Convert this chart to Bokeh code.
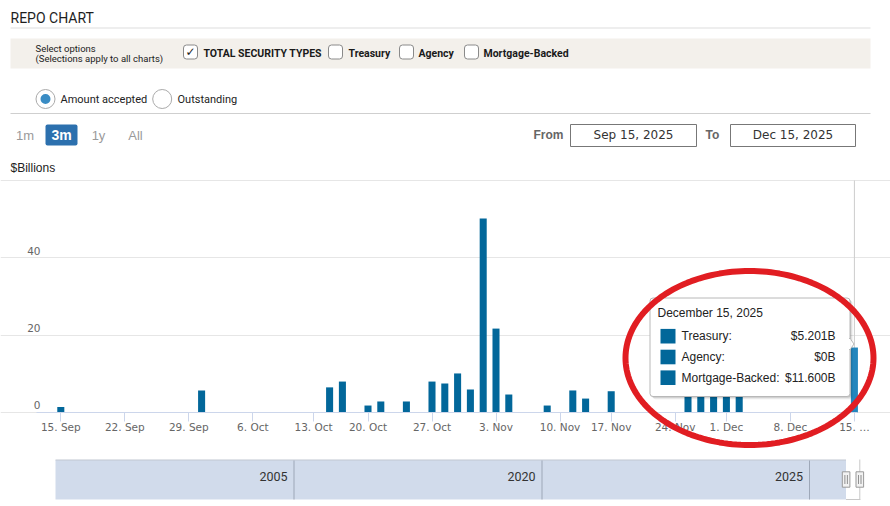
import numpy as np
import pandas as pd
from bokeh.plotting import figure
from bokeh.models import (Range1d, FixedTicker, BoxAnnotation, Label, PolyAnnotation,
                          ColumnDataSource)
from bokeh.embed import file_html
from bokeh.resources import INLINE

# ---------------- data ----------------
start_date = "2025-09-15"
end_date = "2025-12-15"
holidays = ["2025-10-13", "2025-11-11", "2025-11-27"]

bar_dates = ["2025-09-15", "2025-09-30", "2025-10-15", "2025-10-16", "2025-10-20",
             "2025-10-21", "2025-10-23", "2025-10-27", "2025-10-28", "2025-10-29",
             "2025-10-30", "2025-10-31", "2025-11-03", "2025-11-04", "2025-11-07",
             "2025-11-12", "2025-11-13", "2025-11-17", "2025-11-25", "2025-11-26",
             "2025-11-28", "2025-12-01", "2025-12-02", "2025-12-15"]
bar_values = [1.4, 5.7, 6.5, 8.0, 1.8,
              2.85, 2.85, 8.0, 7.5, 10.1,
              5.95, 50.2, 21.7, 4.65, 1.8,
              5.7, 3.6, 5.5, 6.0, 8.5,
              24.4, 26.0, 5.0, 16.801]

tick_dates = ["2025-09-15", "2025-09-22", "2025-09-29", "2025-10-06", "2025-10-13",
              "2025-10-20", "2025-10-27", "2025-11-03", "2025-11-10", "2025-11-17",
              "2025-11-24", "2025-12-01", "2025-12-08", "2025-12-15"]
tick_labels = ["15. Sep", "22. Sep", "29. Sep", "6. Oct", "13. Oct", "20. Oct", "27. Oct",
               "3. Nov", "10. Nov", "17. Nov", "24. Nov", "1. Dec", "8. Dec", "15. \u2026"]

y_ticks = [0, 20, 40, 60]
y_tick_labels = ["0", "20", "40", ""]
y_max = 60

hover_date = "2025-12-15"
tooltip_title = "December 15, 2025"
tooltip_series = ["Treasury:", "Agency:", "Mortgage-Backed:"]
tooltip_values = ["$5.201B", "$0B", "$11.600B"]

nav_years = ["2005", "2020", "2025"]

security_types = ["TOTAL SECURITY TYPES", "Treasury", "Agency", "Mortgage-Backed"]
measures = ["Amount accepted", "Outstanding"]
ranges = ["1m", "3m", "1y", "All"]
from_text = "Sep 15, 2025"
to_text = "Dec 15, 2025"

# ---------------- ordinal axis (business days) ----------------
bdays = [d for d in pd.bdate_range(start_date, end_date) if d.strftime("%Y-%m-%d") not in holidays]
bidx = {d: i for i, d in enumerate(bdays)}


def ordinal(ds):
    d = pd.Timestamp(ds)
    if d in bidx:
        return float(bidx[d])
    prev = max(b for b in bdays if b < d)
    nxt = min(b for b in bdays if b > d)
    f = (d - prev) / (nxt - prev)
    return bidx[prev] + f


bar_x = [ordinal(d) for d in bar_dates]
tick_x = [ordinal(d) for d in tick_dates]
hover_x = ordinal(hover_date)

BAR = "#02679a"
BAR_HOVER = "#2386bd"
src = ColumnDataSource(dict(x=bar_x, top=bar_values,
                            color=[BAR_HOVER if d == hover_date else BAR for d in bar_dates]))

# ---------------- geometry (page px -> data) ----------------
W, H = 890, 506
PX0, PXS = 60.3, 12.8          # page x of index 0, px per business day
PY0, PYS = 412.0, 232.0 / 60   # page y of value 0, px per billion
FL, FR = 36, 857               # plot area left/right in page px
YLAB = 40                      # y axis anchor (page px)


def X(px):
    return (px - PX0) / PXS


def Y(py):
    return (PY0 - py) / PYS


p = figure(width=W, height=H, output_backend="svg", toolbar_location=None,
           x_range=Range1d(X(0), X(W)), y_range=Range1d(Y(H), Y(0)))
p.min_border = 0
p.min_border_left = 0
p.min_border_right = 0
p.min_border_top = 0
p.min_border_bottom = 0
p.outline_line_color = None
p.background_fill_color = "white"
p.border_fill_color = "white"

p.xgrid.visible = False
p.ygrid.ticker = FixedTicker(ticks=y_ticks)
p.ygrid.grid_line_color = "#e6e6e6"
p.ygrid.bounds = (X(FL), X(FR))

p.yaxis.fixed_location = X(YLAB)
p.yaxis.bounds = (0, y_max)
p.yaxis.ticker = FixedTicker(ticks=y_ticks)
p.yaxis.major_label_overrides = {t: (l + "\n" if l else "") for t, l in zip(y_ticks, y_tick_labels)}
p.yaxis.axis_line_color = None
p.yaxis.major_tick_line_color = None
p.yaxis.minor_tick_line_color = None
p.yaxis.major_tick_out = 0
p.yaxis.major_tick_in = 0
p.yaxis.major_label_standoff = 0
p.yaxis.major_label_text_font = "DejaVu Sans"
p.yaxis.major_label_text_font_size = "10.5px"
p.yaxis.major_label_text_color = "#666666"

p.xaxis.fixed_location = 0
p.xaxis.bounds = (X(FL), X(FR))
p.xaxis.ticker = FixedTicker(ticks=tick_x)
p.xaxis.major_label_overrides = {t: l for t, l in zip(tick_x, tick_labels)}
p.xaxis.axis_line_color = "#ccd6eb"
p.xaxis.major_tick_line_color = "#ccd6eb"
p.xaxis.major_tick_out = 9
p.xaxis.major_tick_in = 0
p.xaxis.minor_tick_line_color = None
p.xaxis.major_label_standoff = -1
p.xaxis.major_label_text_font = "DejaVu Sans"
p.xaxis.major_label_text_font_size = "10.5px"
p.xaxis.major_label_text_color = "#666666"

# crosshair on hovered point, then bars
p.segment(x0=[hover_x], y0=[0], x1=[hover_x], y1=[y_max], line_color="#cccccc", line_width=1)
p.vbar(x="x", top="top", width=0.55, source=src, fill_color="color", line_color=None)

NARROW = "Roboto"
ARIAL = "'Liberation Sans', Arial, sans-serif"


def box(l, t, r, b, fill="white", line=None, lw=1, radius=0, alpha=1.0):
    kw = dict(left=X(l), right=X(r), top=Y(t), bottom=Y(b),
              fill_color=fill, fill_alpha=alpha if fill else 0,
              line_color=line, line_width=lw, line_alpha=1.0 if line else 0)
    if radius:
        kw["border_radius"] = int(round(radius))
    p.add_layout(BoxAnnotation(**kw))


def txt(px, py, s, size, color="#222222", font=ARIAL, bold=False, align="left"):
    p.add_layout(Label(x=X(px), y=Y(py), text=s, text_font=font,
                       text_font_size=f"{size}px", text_color=color,
                       text_font_style="bold" if bold else "normal",
                       text_align=align, text_baseline="middle"))


# header
txt(10, 17, "REPO CHART", 14, "#1e1e1e", NARROW)
box(10, 27, 870, 28, fill="#dddddd")
box(10, 38, 870, 68, fill="#f3f0eb")
txt(35, 48, "Select options", 9.5, "#222222", NARROW)
txt(35, 58, "(Selections apply to all charts)", 9.5, "#222222", NARROW)
cb_x = [183, 328, 399, 464]
lb_x = [203, 348, 418, 483]
for i, (cx, lx, s) in enumerate(zip(cb_x, lb_x, security_types)):
    box(cx, 44.5, cx + 14, 58.5, fill="white", line="#8a8a8a", radius=3)
    if i == 0:
        txt(cx + 7, 51.5, "\u2713", 12, "#222222", "DejaVu Sans", align="center")
    txt(lx, 53, s, 10.5, "#1a1a1a", NARROW, bold=True)

# radio buttons
rb_x = [45, 161.7]
rt_x = [60, 177]
for i, (cx, tx, s) in enumerate(zip(rb_x, rt_x, measures)):
    box(cx - 9.5, 89, cx + 9.5, 108, fill="white", line="#aaaaaa", radius=10)
    if i == 0:
        box(cx - 5, 93.5, cx + 5, 103.5, fill="#3a8cc4", radius=5)
    txt(tx, 99, s, 11, "#222222", NARROW)
box(10, 112.5, 870, 113.5, fill="#cfcfcf")

# range selector
rx = [24.5, 61, 98, 135]
box(45, 124, 77, 145, fill="#2c70ae", radius=2)
for i, (x0, s) in enumerate(zip(rx, ranges)):
    if i == 1:
        txt(x0, 134.5, s, 14, "white", ARIAL, bold=True, align="center")
    else:
        txt(x0, 134.5, s, 13, "#9a9a9a", ARIAL, align="center")

txt(533, 134, "From", 12, "#666666", ARIAL, bold=True)
box(570, 124, 696, 146, fill="white", line="#777777")
txt(633, 134, from_text, 12, "#333333", "DejaVu Sans", align="center")
txt(705, 134, "To", 12, "#666666", ARIAL, bold=True)
box(730, 124, 855, 146, fill="white", line="#777777")
txt(792.5, 134, to_text, 12, "#333333", "DejaVu Sans", align="center")

txt(10, 167, "$Billions", 12, "#222222", ARIAL)

# navigator
box(55, 459.5, 845.5, 499, fill="#d1dbeb")
box(55, 459, 845.5, 460, fill="#c2c8d2")
sep_x = [293, 541, 808.5]
for sx, yr in zip(sep_x, nav_years):
    box(sx, 460, sx + 1, 499, fill="#9ea8b8")
    txt(sx - 6, 476, yr, 12.5, "#333333", NARROW, align="right")
box(858.8, 459, 859.8, 499.5, fill="#c8c8c8")
box(845.5, 498.5, 859.8, 499.5, fill="#c8c8c8")
for hx in [845.6, 859.3]:
    box(hx - 3.8, 471.3, hx + 3.8, 486.7, fill="#f2f2f2", line="#999999")
    box(hx - 1.6, 474.5, hx - 0.8, 483.5, fill="#777777")
    box(hx + 0.8, 474.5, hx + 1.6, 483.5, fill="#777777")

# tooltip
for k, a in [(3, 0.05), (2, 0.08), (1, 0.12)]:
    box(649.5 + k, 297.5 + k, 849.5 + k, 396 + k, fill="black", alpha=a, radius=3)
box(649.5, 297.5, 849.5, 396, fill="white", line="#b8b8b8", radius=3)
tri_x = [849.2, 853.5, 849.2]
tri_y = [337.5, 343.5, 349.5]
p.add_layout(PolyAnnotation(xs=[X(v) for v in tri_x], ys=[Y(v) for v in tri_y],
                            fill_color="white", fill_alpha=1, line_color="#b8b8b8",
                            line_alpha=1, line_width=1))
box(848.4, 338.5, 849.8, 348.5, fill="white")
txt(657, 312.5, tooltip_title, 12, "#222222", ARIAL)
row_y = [335.7, 356.5, 377.2]
for ry, s, v in zip(row_y, tooltip_series, tooltip_values):
    box(660, ry - 7.3, 675, ry + 7.3, fill=BAR)
    txt(681, ry, s, 12, "#222222", ARIAL)
    txt(835, ry, v, 12, "#222222", ARIAL, align="right")

# red ellipse
th = np.linspace(0, 2 * np.pi, 181)
ecx, ecy, erx, ery = 749, 357.5, 124, 87
p.add_layout(PolyAnnotation(xs=[X(ecx + erx * np.cos(t)) for t in th],
                            ys=[Y(ecy + ery * np.sin(t)) for t in th],
                            fill_alpha=0, line_color="#e11d22", line_alpha=1, line_width=6))

open("out.html", "w").write(file_html(p, INLINE))
